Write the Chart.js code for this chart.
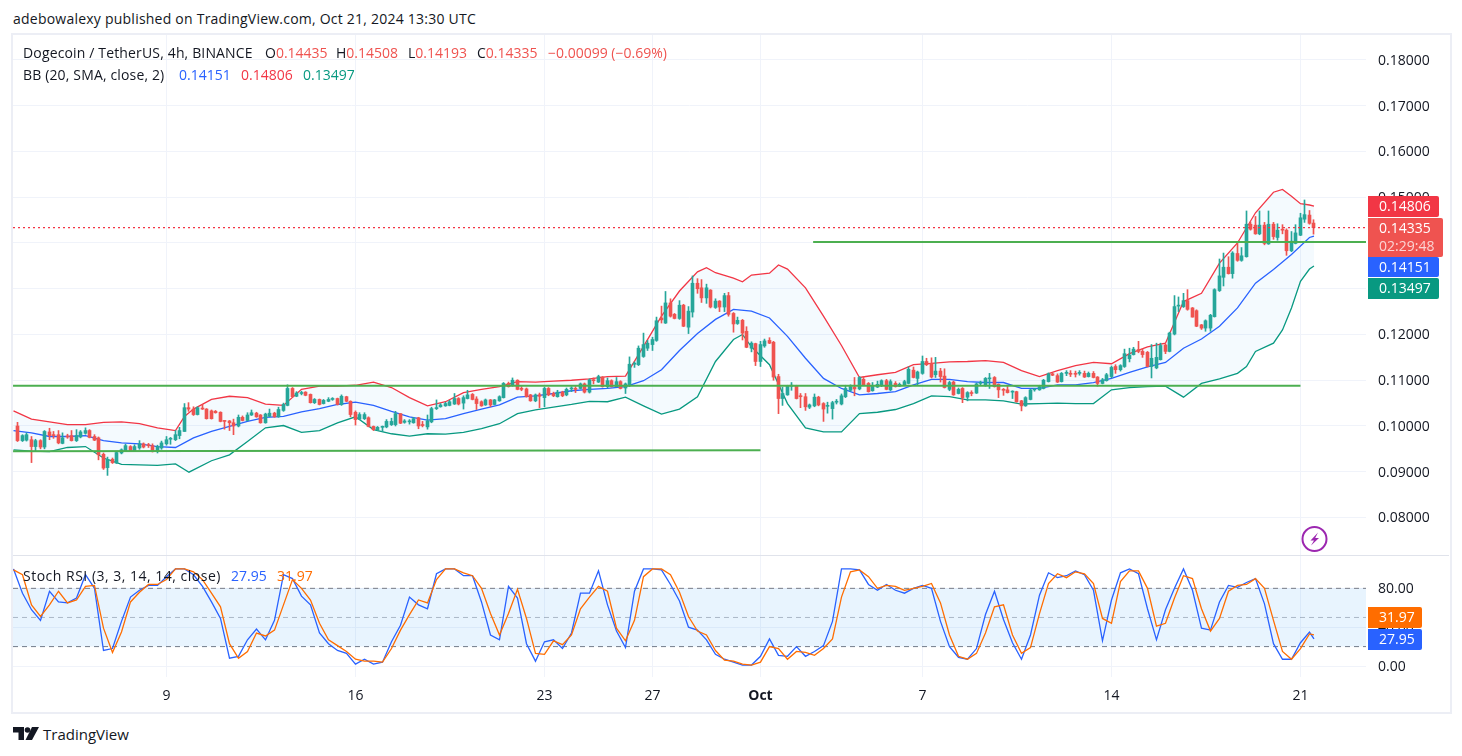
<!DOCTYPE html>
<html>
<head>
<meta charset="utf-8">
<title>DOGEUSDT 4h</title>
<script src="https://cdn.jsdelivr.net/npm/chart.js@4/dist/chart.umd.min.js"></script>
<style>
  html, body { margin: 0; padding: 0; background: #fff; }
  body { width: 1462px; height: 756px; position: relative; overflow: hidden; font-family: "Open Sans", sans-serif; color: #131722; }
  .txt { position: absolute; white-space: pre; font-size: 14px; line-height: 18px; z-index: 5; }
  #frame { position: absolute; left: 11px; top: 33px; width: 1437px; height: 677px; border: 2px solid #eceef5; }
  #sep { position: absolute; left: 13px; top: 555px; width: 1436px; height: 1px; background: #e0e3eb; }
  canvas { position: absolute; left: 13px; }
  #priceChart { top: 35px; }
  #rsiChart { top: 556px; }
  .up { color: #ef5350; }
  .blue { color: #2962ff; }
  .red { color: #f23645; }
  .teal { color: #089981; }
  .orange { color: #ff6d00; }
</style>
</head>
<body>
<div id="frame"></div>
<canvas id="priceChart" width="1436" height="520"></canvas>
<div id="sep"></div>
<canvas id="rsiChart" width="1436" height="156"></canvas>

<div class="txt" style="left:13px;top:10px;letter-spacing:.23px">adebowalexy published on TradingView.com, Oct 21, 2024 13:30 UTC</div>
<div class="txt" style="left:23px;top:44px;letter-spacing:.15px">Dogecoin / TetherUS, 4h, BINANCE</div>
<div class="txt" style="left:265px;top:44px">O<span class="up">0.14435</span></div>
<div class="txt" style="left:336px;top:44px">H<span class="up">0.14508</span></div>
<div class="txt" style="left:408px;top:44px">L<span class="up">0.14193</span></div>
<div class="txt" style="left:477px;top:44px">C<span class="up">0.14335</span></div>
<div class="txt up" style="left:548px;top:44px">−0.00099 (−0.69%)</div>
<div class="txt" style="left:23px;top:66px;letter-spacing:.15px">BB (20, SMA, close, 2)</div>
<div class="txt blue" style="left:179px;top:66px">0.14151</div>
<div class="txt red" style="left:241px;top:66px">0.14806</div>
<div class="txt teal" style="left:303px;top:66px">0.13497</div>
<div class="txt" style="left:23px;top:567px;letter-spacing:.5px">Stoch RSI (3, 3, 14, 14, close)</div>
<div class="txt blue" style="left:231px;top:567px">27.95</div>
<div class="txt orange" style="left:277px;top:567px">31.97</div>

<svg style="position:absolute;left:1301px;top:526px;z-index:5" width="27" height="27" viewBox="0 0 27 27">
  <circle cx="13.5" cy="13" r="12" fill="#fff" stroke="#9c27b0" stroke-width="2"/>
  <path d="M17 6.5 L9.5 14.5 L13 14.5 L10 19.5 L18 12 L14.2 12 Z" fill="#9c27b0"/>
</svg>
<svg style="position:absolute;left:13px;top:727px" width="26" height="14" viewBox="0 0 26 14">
  <path d="M0 0 H11 V13 H5.5 V5.5 H0 Z" fill="#131722"/>
  <circle cx="14.5" cy="3" r="2.8" fill="#131722"/>
  <path d="M19 0 H26 L19 13 H12.5 Z" fill="#131722"/>
</svg>
<div class="txt" style="left:43px;top:724px;font-size:15px;line-height:20px">TradingView</div>

<script>
// Bars run from Sep 3 12:00 to Oct 21 12:00 (4h candles), x axis is the bar number
const opens = [
  0.1000,0.0968,0.0969,0.0970,0.0955,0.0968,0.0954,0.0987,0.0981,0.0981,
  0.0962,0.0977,0.0979,0.0968,0.0976,0.0984,0.0990,0.0977,0.0974,0.0938,
  0.0909,0.0927,0.0919,0.0941,0.0946,0.0955,0.0946,0.0952,0.0961,0.0959,
  0.0957,0.0944,0.0952,0.0961,0.0971,0.0970,0.0979,0.0988,0.1040,0.1037,
  0.1025,0.1038,0.1037,0.1033,0.1032,0.1030,0.1011,0.1011,0.1007,0.1000,
  0.1019,0.1012,0.1024,0.1028,0.1024,0.1007,0.1021,0.1028,0.1020,0.1034,
  0.1045,0.1082,0.1065,0.1071,0.1074,0.1069,0.1051,0.1058,0.1049,0.1054,
  0.1058,0.1060,0.1047,0.1064,0.1054,0.1030,0.1015,0.1016,0.1018,0.0999,
  0.0992,0.0997,0.0998,0.1003,0.1003,0.1027,0.1008,0.1009,0.1007,0.1018,
  0.1002,0.0998,0.1009,0.1038,0.1042,0.1044,0.1045,0.1048,0.1060,0.1050,
  0.1060,0.1069,0.1059,0.1053,0.1046,0.1057,0.1047,0.1055,0.1062,0.1093,
  0.1088,0.1100,0.1081,0.1081,0.1068,0.1055,0.1068,0.1062,0.1082,0.1071,
  0.1064,0.1074,0.1068,0.1081,0.1081,0.1082,0.1092,0.1074,0.1100,0.1096,
  0.1107,0.1086,0.1099,0.1086,0.1097,0.1083,0.1088,0.1135,0.1134,0.1152,
  0.1170,0.1178,0.1187,0.1236,0.1225,0.1269,0.1244,0.1235,0.1264,0.1216,
  0.1249,0.1312,0.1302,0.1280,0.1297,0.1259,0.1273,0.1260,0.1285,0.1246,
  0.1224,0.1231,0.1207,0.1170,0.1180,0.1141,0.1175,0.1187,0.1183,0.1108,
  0.1060,0.1068,0.1087,0.1088,0.1065,0.1064,0.1041,0.1044,0.1063,0.1049,
  0.1043,0.1038,0.1052,0.1048,0.1064,0.1078,0.1085,0.1081,0.1102,0.1093,
  0.1077,0.1085,0.1088,0.1099,0.1079,0.1093,0.1087,0.1090,0.1093,0.1122,
  0.1104,0.1115,0.1141,0.1137,0.1112,0.1120,0.1109,0.1080,0.1096,0.1071,
  0.1082,0.1063,0.1072,0.1072,0.1093,0.1088,0.1103,0.1106,0.1091,0.1079,
  0.1079,0.1074,0.1075,0.1055,0.1044,0.1058,0.1079,0.1079,0.1082,0.1097,
  0.1114,0.1110,0.1097,0.1115,0.1114,0.1114,0.1115,0.1115,0.1108,0.1115,
  0.1107,0.1093,0.1099,0.1108,0.1130,0.1123,0.1130,0.1147,0.1156,0.1167,
  0.1163,0.1161,0.1130,0.1127,0.1145,0.1177,0.1163,0.1201,0.1262,0.1261,
  0.1274,0.1258,0.1252,0.1221,0.1214,0.1214,0.1239,0.1296,0.1325,0.1347,
  0.1333,0.1377,0.1362,0.1370,0.1441,0.1439,0.1420,0.1439,0.1398,0.1441,
  0.1412,0.1429,0.1428,0.1383,0.1399,0.1417,0.1452,0.1461,0.14435
];
const closes = [
  0.0968,0.0979,0.0981,0.0955,0.0968,0.0954,0.0988,0.0979,0.0979,0.0963,
  0.0974,0.0976,0.0968,0.0979,0.0987,0.0990,0.0975,0.0969,0.0937,0.0908,
  0.0927,0.0920,0.0942,0.0948,0.0957,0.0946,0.0955,0.0961,0.0954,0.0957,
  0.0944,0.0955,0.0963,0.0970,0.0972,0.0981,0.0990,0.1040,0.1037,0.1025,
  0.1040,0.1037,0.1016,0.1016,0.1029,0.1010,0.1010,0.1007,0.1000,0.1019,
  0.1012,0.1024,0.1029,0.1020,0.1007,0.1026,0.1028,0.1020,0.1036,0.1047,
  0.1082,0.1064,0.1072,0.1072,0.1067,0.1051,0.1058,0.1047,0.1056,0.1058,
  0.1059,0.1047,0.1065,0.1054,0.1025,0.1014,0.1025,0.1025,0.0999,0.0992,
  0.0997,0.0998,0.1010,0.1010,0.1027,0.1006,0.1011,0.1010,0.1016,0.1000,
  0.1001,0.1011,0.1038,0.1040,0.1046,0.1049,0.1053,0.1060,0.1048,0.1062,
  0.1068,0.1058,0.1049,0.1044,0.1057,0.1046,0.1057,0.1064,0.1093,0.1086,
  0.1100,0.1080,0.1080,0.1064,0.1055,0.1068,0.1065,0.1082,0.1068,0.1066,
  0.1074,0.1066,0.1080,0.1082,0.1080,0.1092,0.1074,0.1101,0.1099,0.1108,
  0.1086,0.1099,0.1086,0.1097,0.1082,0.1092,0.1135,0.1136,0.1170,0.1178,
  0.1181,0.1189,0.1230,0.1232,0.1269,0.1240,0.1235,0.1264,0.1218,0.1251,
  0.1312,0.1300,0.1280,0.1302,0.1260,0.1273,0.1260,0.1285,0.1244,0.1223,
  0.1231,0.1203,0.1172,0.1181,0.1141,0.1178,0.1186,0.1181,0.1107,0.1060,
  0.1071,0.1088,0.1088,0.1060,0.1064,0.1042,0.1046,0.1063,0.1046,0.1037,
  0.1045,0.1051,0.1053,0.1066,0.1082,0.1086,0.1081,0.1106,0.1090,0.1075,
  0.1088,0.1091,0.1099,0.1080,0.1097,0.1086,0.1091,0.1097,0.1124,0.1106,
  0.1118,0.1141,0.1134,0.1107,0.1120,0.1108,0.1084,0.1095,0.1068,0.1080,
  0.1062,0.1073,0.1071,0.1092,0.1095,0.1104,0.1105,0.1086,0.1079,0.1078,
  0.1073,0.1075,0.1053,0.1044,0.1062,0.1079,0.1080,0.1086,0.1100,0.1114,
  0.1111,0.1096,0.1115,0.1116,0.1113,0.1113,0.1116,0.1107,0.1115,0.1106,
  0.1093,0.1101,0.1112,0.1128,0.1123,0.1132,0.1158,0.1155,0.1168,0.1163,
  0.1156,0.1130,0.1148,0.1150,0.1176,0.1163,0.1203,0.1261,0.1264,0.1274,
  0.1255,0.1238,0.1218,0.1214,0.1230,0.1242,0.1298,0.1328,0.1347,0.1333,
  0.1378,0.1362,0.1372,0.1441,0.1430,0.1420,0.1439,0.1399,0.1441,0.1414,
  0.1428,0.1428,0.1383,0.1404,0.1422,0.1455,0.1462,0.1443,0.14335
];
const highs = [
  0.1008,0.0981,0.0985,0.0977,0.0971,0.0970,0.0990,0.0995,0.0988,0.0990,
  0.0985,0.0982,0.0990,0.0992,0.0990,0.0996,0.0992,0.0981,0.0976,0.0941,
  0.0932,0.0930,0.0944,0.0950,0.0960,0.0957,0.0959,0.0968,0.0963,0.0962,
  0.0961,0.0958,0.0967,0.0977,0.0975,0.0990,0.0997,0.1049,0.1051,0.1042,
  0.1042,0.1047,0.1038,0.1035,0.1034,0.1031,0.1012,0.1012,0.1015,0.1024,
  0.1022,0.1029,0.1035,0.1030,0.1025,0.1028,0.1037,0.1030,0.1041,0.1050,
  0.1090,0.1084,0.1075,0.1076,0.1075,0.1070,0.1060,0.1059,0.1058,0.1062,
  0.1062,0.1061,0.1068,0.1065,0.1055,0.1033,0.1029,0.1029,0.1020,0.1000,
  0.0999,0.1000,0.1014,0.1017,0.1032,0.1027,0.1014,0.1014,0.1019,0.1019,
  0.1010,0.1024,0.1041,0.1057,0.1049,0.1052,0.1056,0.1071,0.1062,0.1066,
  0.1078,0.1071,0.1064,0.1055,0.1059,0.1058,0.1058,0.1066,0.1095,0.1096,
  0.1105,0.1101,0.1086,0.1083,0.1069,0.1070,0.1072,0.1085,0.1084,0.1074,
  0.1078,0.1076,0.1083,0.1086,0.1086,0.1094,0.1094,0.1103,0.1105,0.1111,
  0.1108,0.1105,0.1101,0.1106,0.1099,0.1094,0.1151,0.1140,0.1175,0.1203,
  0.1187,0.1194,0.1238,0.1262,0.1294,0.1278,0.1246,0.1274,0.1266,0.1261,
  0.1328,0.1322,0.1320,0.1310,0.1298,0.1278,0.1274,0.1290,0.1292,0.1248,
  0.1238,0.1233,0.1217,0.1184,0.1181,0.1185,0.1190,0.1193,0.1185,0.1113,
  0.1085,0.1089,0.1095,0.1089,0.1071,0.1071,0.1048,0.1070,0.1065,0.1051,
  0.1052,0.1054,0.1058,0.1070,0.1089,0.1090,0.1106,0.1108,0.1108,0.1095,
  0.1095,0.1098,0.1101,0.1102,0.1101,0.1097,0.1094,0.1100,0.1129,0.1129,
  0.1120,0.1153,0.1148,0.1149,0.1150,0.1126,0.1125,0.1098,0.1098,0.1083,
  0.1084,0.1075,0.1077,0.1094,0.1098,0.1106,0.1115,0.1108,0.1092,0.1082,
  0.1087,0.1077,0.1076,0.1056,0.1064,0.1081,0.1082,0.1089,0.1102,0.1116,
  0.1116,0.1114,0.1117,0.1121,0.1121,0.1120,0.1121,0.1120,0.1118,0.1119,
  0.1108,0.1104,0.1115,0.1131,0.1134,0.1134,0.1168,0.1170,0.1172,0.1185,
  0.1168,0.1163,0.1178,0.1181,0.1181,0.1179,0.1205,0.1285,0.1282,0.1290,
  0.1298,0.1259,0.1254,0.1222,0.1232,0.1244,0.1300,0.1365,0.1378,0.1370,
  0.1381,0.1400,0.1390,0.1470,0.1446,0.1458,0.1470,0.1445,0.1470,0.1445,
  0.1442,0.1440,0.1431,0.1425,0.1440,0.1465,0.1494,0.1471,0.14508
];
const lows = [
  0.0966,0.0966,0.0967,0.0920,0.0946,0.0950,0.0950,0.0970,0.0973,0.0961,
  0.0961,0.0973,0.0967,0.0966,0.0974,0.0982,0.0974,0.0968,0.0926,0.0905,
  0.0892,0.0918,0.0918,0.0939,0.0945,0.0944,0.0944,0.0949,0.0952,0.0953,
  0.0943,0.0941,0.0949,0.0958,0.0960,0.0968,0.0972,0.0988,0.1032,0.1023,
  0.1024,0.1036,0.1015,0.1015,0.1028,0.1009,0.0993,0.0990,0.0981,0.0998,
  0.1011,0.1011,0.1023,0.1019,0.1006,0.1006,0.1020,0.1019,0.1019,0.1032,
  0.1044,0.1063,0.1064,0.1068,0.1066,0.1050,0.1049,0.1046,0.1048,0.1053,
  0.1056,0.1046,0.1045,0.1053,0.1020,0.1002,0.1014,0.1014,0.0998,0.0990,
  0.0990,0.0988,0.0996,0.1001,0.1000,0.1005,0.1006,0.1004,0.1006,0.0994,
  0.0998,0.0993,0.1007,0.1036,0.1041,0.1043,0.1044,0.1047,0.1046,0.1037,
  0.1059,0.1057,0.1036,0.1043,0.1045,0.1042,0.1046,0.1054,0.1061,0.1085,
  0.1087,0.1079,0.1077,0.1063,0.1054,0.1053,0.1040,0.1042,0.1066,0.1064,
  0.1063,0.1064,0.1066,0.1075,0.1073,0.1081,0.1072,0.1072,0.1092,0.1095,
  0.1085,0.1083,0.1085,0.1085,0.1081,0.1071,0.1086,0.1128,0.1132,0.1150,
  0.1165,0.1165,0.1185,0.1225,0.1224,0.1238,0.1234,0.1233,0.1217,0.1202,
  0.1238,0.1290,0.1270,0.1268,0.1258,0.1257,0.1250,0.1250,0.1240,0.1205,
  0.1222,0.1188,0.1171,0.1162,0.1132,0.1130,0.1172,0.1180,0.1100,0.1027,
  0.1045,0.1067,0.1078,0.1059,0.1040,0.1034,0.1038,0.1042,0.1044,0.1010,
  0.1028,0.1015,0.1048,0.1046,0.1062,0.1076,0.1066,0.1079,0.1088,0.1074,
  0.1076,0.1084,0.1086,0.1079,0.1077,0.1085,0.1086,0.1089,0.1092,0.1105,
  0.1090,0.1113,0.1132,0.1105,0.1106,0.1096,0.1083,0.1077,0.1067,0.1070,
  0.1051,0.1055,0.1066,0.1071,0.1089,0.1087,0.1082,0.1085,0.1062,0.1067,
  0.1072,0.1060,0.1052,0.1033,0.1043,0.1057,0.1076,0.1078,0.1081,0.1096,
  0.1110,0.1095,0.1096,0.1110,0.1108,0.1107,0.1111,0.1106,0.1107,0.1105,
  0.1087,0.1092,0.1098,0.1105,0.1115,0.1120,0.1128,0.1140,0.1155,0.1160,
  0.1150,0.1129,0.1105,0.1125,0.1144,0.1158,0.1162,0.1199,0.1250,0.1259,
  0.1253,0.1238,0.1217,0.1211,0.1207,0.1207,0.1238,0.1294,0.1306,0.1332,
  0.1323,0.1360,0.1360,0.1369,0.1428,0.1419,0.1418,0.1396,0.1397,0.1408,
  0.1406,0.1420,0.1373,0.1381,0.1398,0.1416,0.1445,0.1441,0.14193
];

// Bollinger bands, one reading every 4 bars from bar -1, plus the last bar
const bandBars = [
  -1,3,7,11,15,19,23,27,31,35,39,43,47,51,55,59,63,67,71,75,79,83,87,91,95,99,103,107,111,115,
  119,123,127,131,135,139,143,147,151,155,159,163,167,171,175,179,183,187,191,195,199,203,207,211,215,219,
  223,227,231,235,239,243,247,251,255,259,263,267,271,275,279,283,287,288
];
const bbUpper = [
  0.1033,0.1015,0.1009,0.1003,0.1003,0.1008,0.1009,0.1005,0.0996,0.0990,
  0.1037,0.1058,0.1065,0.1062,0.1048,0.1045,0.1080,0.1087,0.1087,0.1089,
  0.1096,0.1084,0.1062,0.1044,0.1053,0.1073,0.1080,0.1086,0.1097,0.1096,
  0.1098,0.1100,0.1103,0.1108,0.1109,0.1174,0.1240,0.1295,0.1337,0.1335,
  0.1323,0.1330,0.1334,0.1343,0.1302,0.1240,0.1176,0.1106,0.1112,0.1117,
  0.1134,0.1137,0.1140,0.1141,0.1143,0.1139,0.1121,0.1108,0.1121,0.1132,
  0.1139,0.1136,0.1158,0.1173,0.1181,0.1272,0.1290,0.1356,0.1400,0.1466,
  0.1511,0.1502,0.1483,0.14806
];
const bbMiddle = [
  0.0990,0.0985,0.0977,0.0977,0.0979,0.0968,0.0963,0.0961,0.0955,0.0953,
  0.0974,0.0988,0.0999,0.1010,0.1019,0.1021,0.1031,0.1038,0.1047,0.1052,
  0.1045,0.1032,0.1020,0.1013,0.1016,0.1027,0.1037,0.1046,0.1063,0.1066,
  0.1071,0.1077,0.1080,0.1082,0.1086,0.1099,0.1123,0.1165,0.1202,0.1233,
  0.1255,0.1251,0.1236,0.1196,0.1148,0.1104,0.1082,0.1068,0.1071,0.1075,
  0.1090,0.1102,0.1102,0.1097,0.1095,0.1095,0.1082,0.1082,0.1090,0.1090,
  0.1095,0.1104,0.1117,0.1129,0.1139,0.1170,0.1190,0.1218,0.1258,0.1312,
  0.1342,0.1375,0.1412,0.14151
];
const bbLower = [
  0.0948,0.0945,0.0944,0.0953,0.0955,0.0930,0.0916,0.0915,0.0914,0.0917,
  0.0904,0.0924,0.0937,0.0966,0.0996,0.1001,0.0986,0.0990,0.1007,0.1020,
  0.0992,0.0983,0.0978,0.0983,0.0982,0.0986,0.0994,0.1005,0.1027,0.1035,
  0.1041,0.1047,0.1054,0.1053,0.1063,0.1044,0.1026,0.1037,0.1064,0.1141,
  0.1189,0.1173,0.1134,0.1049,0.0996,0.0987,0.0987,0.1027,0.1030,0.1036,
  0.1049,0.1066,0.1064,0.1057,0.1057,0.1055,0.1048,0.1049,0.1050,0.1049,
  0.1049,0.1079,0.1084,0.1086,0.1087,0.1063,0.1093,0.1103,0.1115,0.1163,
  0.1181,0.1258,0.1343,0.13497
];

// turning points that fall between the 4-bar readings, [bar, value]
const upperTurns = [[37, 0.1021], [153, 0.1346], [161, 0.1315], [169, 0.1352], [281, 0.1517], [285, 0.1486]];
const lowerTurns = [[38, 0.0899], [161, 0.1200], [273, 0.1130], [281, 0.1210], [285, 0.1316]];

// Stochastic RSI, one reading every 2 bars from bar -1, plus the last bar
const rsiK = [
  100,75,58,47,77,66,65,70,94,80,16,18,46,71,78,83,83,92,100,100,
  94,82,66,49,8,10,27,38,27,47,94,90,72,63,34,23,16,13,2,7,
  2,4,25,42,71,63,59,95,100,100,93,93,66,32,27,82,70,23,5,25,
  27,18,34,75,75,98,63,36,19,77,100,100,99,84,67,40,37,27,12,7,
  4,1,1,10,28,11,10,20,10,15,21,46,100,100,99,84,78,84,78,75,
  80,83,80,46,20,9,7,18,53,77,48,24,7,32,73,96,91,93,98,94,
  78,26,68,96,100,95,59,27,58,80,100,78,39,37,66,83,81,86,90,64,
  23,7,7,24,35,27.95
];
const rsiD = [
  99,94,63,51,63,77,65,68,82,83,39,14,35,66,76,84,84,89,100,100,
  97,89,75,61,23,8,15,34,31,37,63,89,80,68,44,27,21,15,7,5,
  5,4,18,37,53,68,65,89,100,100,96,93,80,54,32,54,79,49,13,12,
  26,22,32,59,71,82,77,39,26,47,92,100,100,94,76,51,36,32,16,6,
  5,2,1,4,20,18,7,15,14,11,18,28,71,97,99,92,80,83,82,78,
  80,82,85,65,32,10,7,13,34,61,63,32,13,19,54,85,95,91,97,95,
  85,49,44,87,98,98,80,41,44,70,93,90,59,36,49,77,83,84,90,80,
  47,15,7,18,33,31.97
];

const timeTicks = [33, 75, 117, 141, 165, 201, 243, 285];
const timeLabels = ['9', '16', '23', '27', 'Oct', '7', '14', '21'];
const priceTicks = [0.08, 0.09, 0.10, 0.11, 0.12, 0.13, 0.14, 0.15, 0.16, 0.17, 0.18];
const rsiTicks = [0, 40, 80];
const lastClose = 0.14335;

// horizontal levels, [first bar, last bar, price]
const levelHigh = [176.7, 299.6, 0.1402];
const levelMid = [-1.1, 285, 0.1088];
const levelLow = [-1.1, 165, 0.0945, 0.0947];

const XMIN = -1.11, XMAX = 299.56;
const GRID = '#f0f3fa';
const FONT = '"Open Sans", sans-serif';
const BULL = '#26a69a', BEAR = '#ef5350';

const pts = (xs, ys) => ys.map((y, i) => ({ x: xs[i], y }));
const withTurns = (points, turns) => points
  .concat(turns.map(t => ({ x: t[0], y: t[1] })))
  .sort((a, b) => a.x - b.x);
const candleColor = ctx => closes[ctx.dataIndex] >= opens[ctx.dataIndex] ? BULL : BEAR;

// put every candle on a half pixel so bodies and wicks stay sharp
const snapBars = {
  id: 'snapBars',
  afterDatasetsUpdate(chart) {
    chart.data.datasets.forEach((ds, i) => {
      if (ds.type === 'bar') {
        chart.getDatasetMeta(i).data.forEach(b => { b.x = Math.floor(b.x) + 0.5; });
      }
    });
  }
};

// price tags on the right axis
function axisTags(items) {
  return {
    id: 'axisTags',
    afterDraw(chart) {
      const ctx = chart.ctx;
      const area = chart.canvas.getBoundingClientRect();
      ctx.save();
      items.forEach(t => {
        ctx.fillStyle = t.color;
        ctx.beginPath();
        ctx.roundRect(t.left - area.left, t.top - area.top, t.width, t.height, [0, 2, 2, 0]);
        ctx.fill();
        ctx.textBaseline = 'middle';
        ctx.font = `14px ${FONT}`;
        t.lines.forEach((line, n) => {
          ctx.fillStyle = n ? 'rgba(255,255,255,0.75)' : '#fff';
          ctx.fillText(line, 1379 - area.left, t.top - area.top + 11.5 + n * 18);
        });
      });
      ctx.restore();
    }
  };
}

// scale paddings would otherwise shrink the plot area around the tick labels
const noPadding = s => { s.paddingTop = s.paddingBottom = s.paddingLeft = s.paddingRight = 0; };

const xScale = (showLabels) => ({
  type: 'linear',
  min: XMIN,
  max: XMAX,
  offset: false,
  afterBuildTicks: s => { s.ticks = timeTicks.map(value => ({ value })); },
  afterFit: s => { s.height = showLabels ? 35 : 0; noPadding(s); },
  grid: { color: GRID, offset: false, drawTicks: false },
  border: { display: false },
  ticks: {
    display: showLabels,
    autoSkip: false,
    maxRotation: 0,
    padding: 11,
    color: '#131722',
    font: ctx => ({ family: FONT, size: 14, weight: ctx.index === 4 ? 'bold' : 'normal' }),
    callback: (v, i) => timeLabels[i]
  }
});

const yScale = (min, max, list, digits) => ({
  type: 'linear',
  position: 'right',
  min,
  max,
  afterBuildTicks: s => { s.ticks = list.map(value => ({ value })); },
  afterFit: s => { s.width = 83; noPadding(s); },
  grid: { color: GRID, drawTicks: false },
  border: { display: false },
  ticks: {
    padding: 12,
    labelOffset: 1,
    color: '#131722',
    font: { family: FONT, size: 14 },
    callback: v => v.toFixed(digits)
  }
});

const line = (label, data, color, extra) => Object.assign({
  type: 'line', label, data, borderColor: color, borderWidth: 1.3,
  pointRadius: 0, tension: 0, fill: false, order: 1
}, extra);

new Chart(document.getElementById('priceChart'), {
  type: 'bar',
  plugins: [snapBars, axisTags([
    { left: 1368, top: 196, width: 71, height: 21, color: '#f23645', lines: ['0.14806'] },
    { left: 1368, top: 218, width: 75, height: 39, color: '#ef5350', lines: ['0.14335', '02:29:48'] },
    { left: 1368, top: 257, width: 71, height: 20, color: '#2962ff', lines: ['0.14151'] },
    { left: 1368, top: 278, width: 71, height: 21, color: '#089981', lines: ['0.13497'] }
  ])],
  data: {
    datasets: [
      line('BB upper', withTurns(pts(bandBars, bbUpper), upperTurns), '#f23645', { order: 6, fill: { target: 2 }, backgroundColor: 'rgba(33,150,243,0.05)' }),
      line('BB basis', pts(bandBars, bbMiddle), '#2962ff', { order: 5 }),
      line('BB lower', withTurns(pts(bandBars, bbLower), lowerTurns), '#089981', { order: 5 }),
      {
        type: 'bar', label: 'wick', order: 3, barThickness: 1, grouped: false, backgroundColor: candleColor,
        data: lows.map((l, i) => ({ x: i, y: [l, highs[i]] }))
      },
      {
        type: 'bar', label: 'body', order: 2, barThickness: 3, minBarLength: 1, grouped: false, backgroundColor: candleColor,
        data: opens.map((o, i) => ({ x: i, y: [Math.min(o, closes[i]), Math.max(o, closes[i])] }))
      },
      line('last', [{ x: XMIN, y: lastClose }, { x: XMAX, y: lastClose }], '#f23645', { borderWidth: 1.2, borderDash: [2, 3] }),
      line('level', [{ x: levelHigh[0], y: levelHigh[2] }, { x: levelHigh[1], y: levelHigh[2] }], '#4caf50', { borderWidth: 2 }),
      line('level', [{ x: levelMid[0], y: levelMid[2] }, { x: levelMid[1], y: levelMid[2] }], '#4caf50', { borderWidth: 2 }),
      line('level', [{ x: levelLow[0], y: levelLow[2] }, { x: levelLow[1], y: levelLow[3] }], '#4caf50', { borderWidth: 2 })
    ]
  },
  options: {
    responsive: false,
    animation: false,
    layout: { padding: 0, autoPadding: false },
    plugins: { legend: { display: false }, tooltip: { enabled: false } },
    scales: { x: xScale(false), y: yScale(0.0718, 0.18546, priceTicks, 5) }
  }
});

new Chart(document.getElementById('rsiChart'), {
  type: 'line',
  plugins: [axisTags([
    { left: 1368, top: 607, width: 54, height: 21, color: '#ff6d00', lines: ['31.97'] },
    { left: 1368, top: 629, width: 54, height: 21, color: '#2962ff', lines: ['27.95'] }
  ])],
  data: {
    datasets: [
      line('upper', [{ x: XMIN, y: 80 }, { x: XMAX, y: 80 }], '#787b86', { order: 5, borderWidth: 1, borderDash: [5, 4], fill: { target: 1 }, backgroundColor: 'rgba(33,150,243,0.1)' }),
      line('lower', [{ x: XMIN, y: 20 }, { x: XMAX, y: 20 }], '#787b86', { order: 5, borderWidth: 1, borderDash: [5, 4] }),
      line('middle', [{ x: XMIN, y: 50 }, { x: XMAX, y: 50 }], 'rgba(120,123,134,0.5)', { order: 5, borderWidth: 1, borderDash: [5, 4] }),
      line('K', pts(rsiXs(), rsiK), '#2962ff', { order: 2 }),
      line('D', pts(rsiXs(), rsiD), '#ff6d00', { order: 1 })
    ]
  },
  options: {
    responsive: false,
    animation: false,
    layout: { padding: 0, autoPadding: false },
    plugins: { legend: { display: false }, tooltip: { enabled: false } },
    scales: { x: xScale(true), y: yScale(-11.3, 113.3, rsiTicks, 2) }
  }
});

// bar numbers for the RSI readings
function rsiXs() {
  return rsiK.map((_, i) => i === rsiK.length - 1 ? 288 : -1 + 2 * i);
}
</script>
</body>
</html>
